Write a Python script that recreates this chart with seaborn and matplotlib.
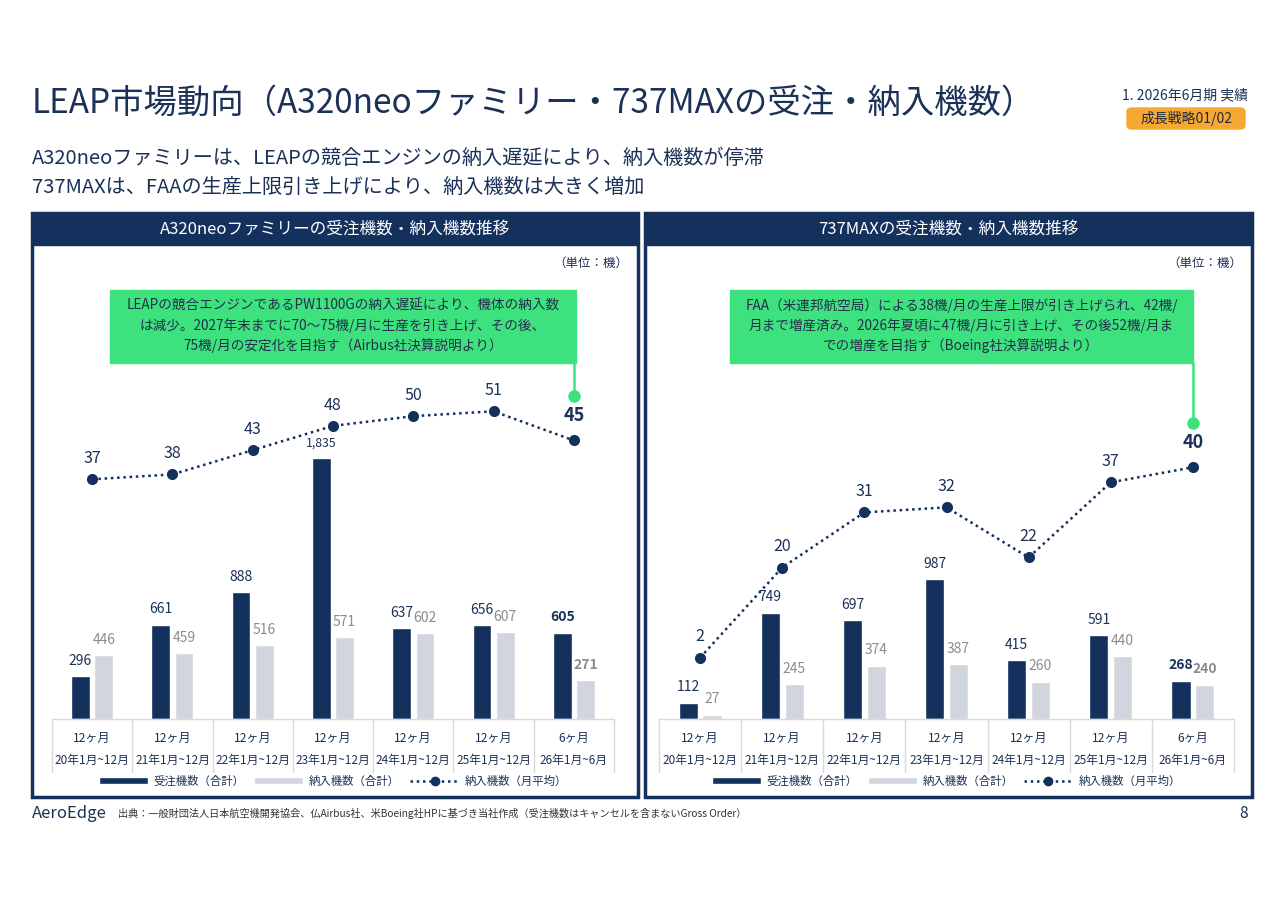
import matplotlib

matplotlib.use("Agg")
import matplotlib.pyplot as plt
import numpy as np
import pandas as pd
import seaborn as sns
from matplotlib import transforms
from matplotlib.lines import Line2D
from matplotlib.patches import FancyBboxPatch, Patch, Rectangle

NAVY = "#14305c"
GRAY_BAR = "#d0d5de"
GRAY_TEXT = "#8c8c8c"
TEXT = "#1b3157"
GREEN = "#3de27e"
ORANGE = "#f7a833"
GRID = "#d9d9d9"

periods = ["20年1月~12月", "21年1月~12月", "22年1月~12月", "23年1月~12月",
           "24年1月~12月", "25年1月~12月", "26年1月~6月"]
spans = ["12ヶ月", "12ヶ月", "12ヶ月", "12ヶ月", "12ヶ月", "12ヶ月", "6ヶ月"]
series_names = ["受注機数（合計）", "納入機数（合計）", "納入機数（月平均）"]

a320_orders = [296, 661, 888, 1835, 637, 656, 605]
a320_deliveries = [446, 459, 516, 571, 602, 607, 271]
a320_monthly = [37, 38, 43, 48, 50, 51, 45]

max_orders = [112, 749, 697, 987, 415, 591, 268]
max_deliveries = [27, 245, 374, 387, 260, 440, 240]
max_monthly = [2, 20, 31, 32, 22, 37, 40]

a320_note = ("LEAPの競合エンジンであるPW1100Gの納入遅延により、機体の納入数\n"
             "は減少。2027年末までに70〜75機/月に生産を引き上げ、その後、\n"
             "75機/月の安定化を目指す（Airbus社決算説明より）")
max_note = ("FAA（米連邦航空局）による38機/月の生産上限が引き上げられ、42機/\n"
            "月まで増産済み。2026年夏頃に47機/月に引き上げ、その後52機/月ま\n"
            "での増産を目指す（Boeing社決算説明より）")

sns.set_style("white")
plt.rcParams["font.family"] = ["Noto Sans CJK JP", "DejaVu Sans"]

W, H = 1280, 905
fig = plt.figure(figsize=(W / 100, H / 100), dpi=100)
fig.patch.set_facecolor("white")


def fx(x):
    return x / W


def fy(y):
    return 1 - y / H


AX_TOP, AX_BOT = 280, 718.5


def draw_panel(px0, px1, header, ax_l, ax_r, orders, deliveries, monthly,
               bar_max, line_lim, note, box_l, box_r):
    # frame + header bar
    fig.patches.append(Rectangle((fx(px0), fy(797)), (px1 - px0) / W, (797 - 213) / H,
                                 transform=fig.transFigure, fill=False,
                                 edgecolor=NAVY, lw=2.5))
    fig.patches.append(Rectangle((fx(px0), fy(245)), (px1 - px0) / W, 32 / H,
                                 transform=fig.transFigure, color=NAVY))
    fig.text(fx((px0 + px1) / 2), fy(229.5), header, ha="center", va="center",
             color="white", fontsize=12)
    fig.text(fx(px1 - 10), fy(263), "（単位：機）", ha="right", va="center",
             color=TEXT, fontsize=9)

    ax = fig.add_axes([fx(ax_l), fy(AX_BOT), (ax_r - ax_l) / W, (AX_BOT - AX_TOP) / H])
    df = pd.DataFrame({
        "period": periods * 2,
        "series": [series_names[0]] * len(periods) + [series_names[1]] * len(periods),
        "value": orders + deliveries,
    })
    sns.barplot(data=df, x="period", y="value", hue="series", palette=[NAVY, GRAY_BAR],
                width=0.58, gap=0.2, saturation=1, errorbar=None, legend=False, ax=ax)
    ax.set_ylim(0, bar_max)
    ax.set_xlim(-0.5, len(periods) - 0.5)
    ax.set_axis_off()

    last = len(periods) - 1
    for cont, vals, col in [(ax.containers[0], orders, TEXT), (ax.containers[1], deliveries, GRAY_TEXT)]:
        for i, (bar, v) in enumerate(zip(cont, vals)):
            ax.annotate(f"{v:,}", (bar.get_x() + bar.get_width() / 2, bar.get_height()),
                        xytext=(0, 11), textcoords="offset points", ha="center", va="center",
                        fontsize=8.8 if v >= 1000 else 10, color=col,
                        fontweight="bold" if i == last else "normal")

    # category table under the bars
    blend = transforms.blended_transform_factory(ax.transData, ax.transAxes)
    ah = AX_BOT - AX_TOP
    ax.plot([-0.5, last + 0.5], [0, 0], transform=blend, color=GRID, lw=1, clip_on=False)
    for b in np.arange(-0.5, last + 1, 1):
        ax.plot([b, b], [0, -(772 - AX_BOT) / ah], transform=blend, color=GRID, lw=1,
                clip_on=False)
    for i, (s, p) in enumerate(zip(spans, periods)):
        ax.text(i, -(738 - AX_BOT) / ah, s, transform=blend, ha="center", va="center",
                fontsize=8.7, color=TEXT)
        ax.text(i, -(760 - AX_BOT) / ah, p, transform=blend, ha="center", va="center",
                fontsize=8.5, color=TEXT)

    # monthly average line
    ax2 = ax.twinx()
    xs = np.arange(len(monthly))
    sns.lineplot(x=xs, y=monthly, ax=ax2, color=NAVY, marker="o", markersize=8,
                 markeredgewidth=0, linewidth=1.8, linestyle=(0, (1, 1.5)))
    ax2.set_ylim(*line_lim)
    ax2.set_xlim(-0.5, last + 0.5)
    ax2.set_axis_off()
    for i, v in enumerate(monthly):
        big = i == last
        ax2.annotate(str(v), (i, v), xytext=(0, 18 if big else 15), textcoords="offset points",
                     ha="center", va="center", fontsize=13 if big else 11.5,
                     fontweight="bold" if big else "normal", color=TEXT)

    # green callout
    dot_tr = transforms.offset_copy(ax2.transData, fig=fig, y=44, units="dots")
    ax2.plot([last], [monthly[-1]], transform=dot_tr, marker="o", ms=9, color=GREEN,
             markeredgewidth=0, clip_on=False)
    dot_px = ax2.transData.transform((last, monthly[-1]))
    dot_y = H - dot_px[1] - 44
    ax2.plot([fx(dot_px[0])] * 2, [fy(dot_y), fy(362.5)], transform=fig.transFigure,
             color=GREEN, lw=1.8, clip_on=False)
    fig.patches.append(Rectangle((fx(box_l), fy(362.5)), (box_r - box_l) / W, 72.5 / H,
                                 transform=fig.transFigure, color=GREEN))
    fig.text(fx((box_l + box_r) / 2), fy(326), note, ha="center", va="center",
             fontsize=9.8, color="#22304a", linespacing=1.45)

    handles = [Patch(facecolor=NAVY), Patch(facecolor=GRAY_BAR),
               Line2D([], [], color=NAVY, linestyle=(0, (1, 1.5)), lw=1.8, marker="o",
                      ms=7, markeredgewidth=0)]
    ax.legend(handles, series_names, loc="center", bbox_to_anchor=(0.5, -(781 - AX_BOT) / ah),
              ncol=3, frameon=False, fontsize=8.2, handlelength=4.3, handleheight=0.6,
              handletextpad=0.5, columnspacing=0.9, labelcolor=TEXT)
    return ax


draw_panel(32, 638, "A320neoファミリーの受注機数・納入機数推移", 52, 614,
           a320_orders, a320_deliveries, a320_monthly,
           (AX_BOT - AX_TOP) / 0.142, (-(AX_BOT - 659) / 4.857, (659 - AX_TOP) / 4.857),
           a320_note, 110, 576)
draw_panel(645, 1252, "737MAXの受注機数・納入機数推移", 659, 1234,
           max_orders, max_deliveries, max_monthly,
           (AX_BOT - AX_TOP) / 0.1413, (-(AX_BOT - 667.7) / 5.01, (667.7 - AX_TOP) / 5.01),
           max_note, 730, 1193)

# slide header
fig.text(fx(32), fy(103), "LEAP市場動向（A320neoファミリー・737MAXの受注・納入機数）",
         ha="left", va="center", fontsize=24, color=TEXT)
fig.text(fx(32), fy(158), "A320neoファミリーは、LEAPの競合エンジンの納入遅延により、納入機数が停滞",
         ha="left", va="center", fontsize=14.5, color=TEXT)
fig.text(fx(32), fy(187), "737MAXは、FAAの生産上限引き上げにより、納入機数は大きく増加",
         ha="left", va="center", fontsize=14.5, color=TEXT)
fig.text(fx(1248), fy(95), "1. 2026年6月期 実績", ha="right", va="center",
         fontsize=10, color=TEXT)
fig.patches.append(FancyBboxPatch((fx(1127), fy(129)), 118 / W, 21 / H,
                                  boxstyle="round,pad=0,rounding_size=0.004",
                                  transform=fig.transFigure, color=ORANGE))
fig.text(fx(1186), fy(118.5), "成長戦略01/02", ha="center", va="center",
         fontsize=10, color="#1f2a3c")

# footer
fig.text(fx(32), fy(813), "AeroEdge", ha="left", va="center", fontsize=12, color=TEXT)
fig.text(fx(118), fy(813),
         "出典：一般財団法人日本航空機開発協会、仏Airbus社、米Boeing社HPに基づき当社作成（受注機数はキャンセルを含まないGross Order）",
         ha="left", va="center", fontsize=7.3, color="#333333")
fig.text(fx(1248), fy(813), "8", ha="right", va="center", fontsize=11, color=TEXT)

fig.savefig("out.png", dpi=100)
